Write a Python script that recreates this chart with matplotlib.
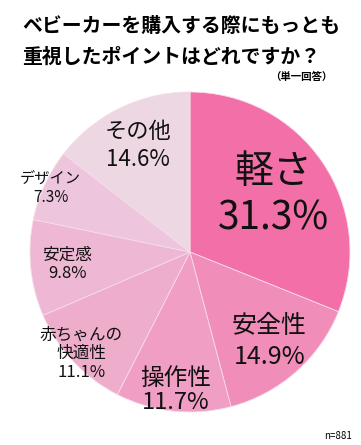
import numpy as np
import matplotlib
matplotlib.use("Agg")
import matplotlib.pyplot as plt

plt.rcParams['font.family'] = ['Noto Sans CJK JP', 'DejaVu Sans']

# data
labels = ["軽さ", "安全性", "操作性", "赤ちゃんの\n快適性", "安定感", "デザイン", "その他"]
values = [31.3, 14.9, 11.7, 11.1, 9.8, 7.3, 14.6]
colors = ["#F26FA8", "#F08DB9", "#F09EC4", "#EFADCC", "#EEB7D3", "#EDC5DC", "#EDD7E3"]

# label styling (radius factor, font size, line spacing)
label_r = [0.63, 0.75, 0.87, 0.93, 0.77, 0.96, 0.74]
label_fs = [28, 18, 17, 12, 12, 11, 16]
label_ls = [1.2, 1.25, 1.1, 1.1, 1.15, 1.2, 1.25]

W, H = 361, 445
fig = plt.figure(figsize=(W / 100, H / 100), dpi=100)

cx, cy, R = 190, 252, 160
ax = fig.add_axes([(cx - R) / W, (H - cy - R) / H, 2 * R / W, 2 * R / H])
wedges, _ = ax.pie(values, colors=colors, startangle=90, counterclock=False,
                   radius=1.0, wedgeprops=dict(linewidth=0.6, edgecolor="#f6dce8"))
ax.set_xlim(-1, 1)
ax.set_ylim(-1, 1)
ax.set_aspect("equal")
ax.axis("off")

for w, lab, v, rf, fs, ls in zip(wedges, labels, values, label_r, label_fs, label_ls):
    ang = np.deg2rad((w.theta1 + w.theta2) / 2)
    ax.text(rf * np.cos(ang), rf * np.sin(ang), f"{lab}\n{v:.1f}%",
            ha="center", va="center", fontsize=fs, linespacing=ls, color="#111111")

fig.text(22 / W, 1 - 25 / H, "ベビーカーを購入する際にもっとも", fontsize=14.3,
         fontweight="bold", va="center", ha="left")
fig.text(22 / W, 1 - 56 / H, "重視したポイントはどれですか？", fontsize=14.3,
         fontweight="bold", va="center", ha="left")
fig.text(332 / W, 1 - 78 / H, "（単一回答）", fontsize=7.5, fontweight="bold",
         va="center", ha="right")
fig.text(352 / W, 1 - 436 / H, "n=881", fontsize=7, va="center", ha="right")

fig.savefig("out.png", dpi=100, facecolor="white")
